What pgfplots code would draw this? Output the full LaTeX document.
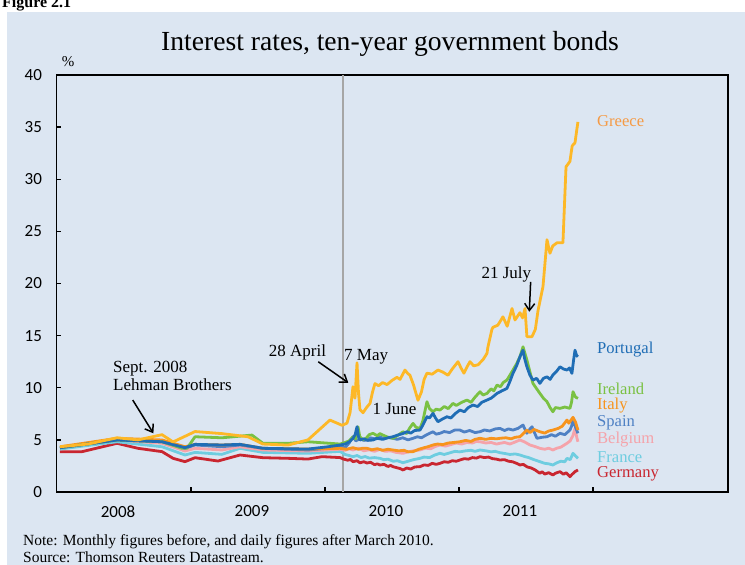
\documentclass[border=0pt]{standalone}
\usepackage{fontspec}
\setmainfont{Liberation Serif}
\newfontfamily\carlito{Carlito}
\usepackage{pgfplots}
\pgfplotsset{compat=1.18}
\usetikzlibrary{arrows.meta}
\definecolor{bgblue}{HTML}{DCE6F2}
\definecolor{cGreece}{HTML}{FDB827}
\definecolor{lGreece}{HTML}{F59A45}
\definecolor{cPortugal}{HTML}{1F6DB5}
\definecolor{cIreland}{HTML}{7AC143}
\definecolor{cItaly}{HTML}{F7941D}
\definecolor{cSpain}{HTML}{4F81C4}
\definecolor{cBelgium}{HTML}{F5A3AA}
\definecolor{cFrance}{HTML}{6ECDE0}
\definecolor{cGermany}{HTML}{C92630}
\definecolor{vgray}{HTML}{A6A6A6}
\begin{document}
\begin{tikzpicture}
\useasboundingbox (0,0) rectangle (745bp,565bp);
\fill[bgblue] (7bp,0) rectangle (745bp,553bp);
\begin{scope}
\clip (0,553bp) rectangle (745bp,565bp);
\node[anchor=base west, inner sep=0, font=\bfseries\fontsize{16bp}{18bp}\selectfont] at (2bp,557bp) {Figure 2.1};
\end{scope}
\node[font=\fontsize{27.6bp}{30bp}\selectfont, inner sep=0] at (390bp,521bp) {Interest rates, ten-year government bonds};
\node[font=\fontsize{15bp}{17bp}\selectfont, inner sep=0] at (68bp,503bp) {\%};
\begin{axis}[
  at={(56.5bp,73bp)}, anchor=south west, scale only axis,
  width=671.5bp, height=417bp,
  xmin=2007.996, xmax=2013.008, ymin=0, ymax=40,
  axis line style={line width=1.8bp, black},
  tick style={line width=1.3bp, black}, major tick length=5bp,
  tick align=inside, tick pos=left,
  xtick={2009,2010,2011,2012}, xticklabels={},
  extra x ticks={2008.455,2009.455,2010.455,2011.455},
  extra x tick labels={2008,2009,2010,2011},
  extra x tick style={tick style={draw=none}},
  ytick={0,5,...,40},
  ticklabel style={font=\carlito\fontsize{17bp}{17bp}\selectfont, black},
  xticklabel style={yshift=-10bp},
  yticklabel style={xshift=-11bp},
  /pgf/number format/assume math mode=true,
  clip=false,
  every axis plot/.append style={line width=2.8bp, line join=round, mark=none},
]
\addplot[vgray, line width=2bp] coordinates {(2010.134,0) (2010.134,40)};
% Germany
\addplot[cGermany] coordinates {
(2008.022,3.87) (2008.187,3.87) (2008.448,4.67) (2008.604,4.19) (2008.784,3.87)
(2008.866,3.23) (2008.955,2.91) (2009.030,3.29) (2009.201,2.97) (2009.366,3.55)
(2009.537,3.29) (2009.724,3.23) (2009.873,3.16) (2009.978,3.39) (2010.112,3.30)
(2010.14,3.15) (2010.17,3.05) (2010.19,3.12) (2010.209,2.91) (2010.24,3.00) (2010.26,2.80)
(2010.29,2.90) (2010.313,2.78) (2010.34,2.85) (2010.37,2.62) (2010.39,2.70) (2010.410,2.59)
(2010.44,2.65) (2010.47,2.45) (2010.49,2.55) (2010.507,2.43) (2010.53,2.35) (2010.56,2.25)
(2010.582,2.11) (2010.61,2.30) (2010.64,2.20) (2010.67,2.40) (2010.709,2.43) (2010.74,2.60)
(2010.77,2.55) (2010.80,2.75) (2010.83,2.65) (2010.858,2.75) (2010.89,2.90) (2010.92,2.85)
(2010.95,3.00) (2010.98,2.95) (2011.007,3.07) (2011.04,3.20) (2011.07,3.15) (2011.10,3.30)
(2011.13,3.25) (2011.157,3.39) (2011.19,3.30) (2011.22,3.35) (2011.25,3.20) (2011.28,3.15)
(2011.306,3.07) (2011.34,3.10) (2011.37,2.95) (2011.40,2.90) (2011.43,2.75) (2011.455,2.59)
(2011.48,2.65) (2011.51,2.40) (2011.54,2.30) (2011.57,2.10) (2011.604,1.79) (2011.62,1.95)
(2011.64,1.72) (2011.67,1.85) (2011.701,1.63) (2011.72,1.80) (2011.754,1.95) (2011.78,1.70)
(2011.80,1.85) (2011.828,1.47) (2011.845,1.70) (2011.866,1.95) (2011.888,2.11)};
% France
\addplot[cFrance] coordinates {
(2008.022,4.12) (2008.448,4.82) (2008.784,4.34) (2008.955,3.55) (2009.030,3.80)
(2009.231,3.61) (2009.366,4.19) (2009.537,3.80) (2009.873,3.71) (2010.112,3.90)
(2010.15,3.60) (2010.18,3.50) (2010.209,3.39) (2010.24,3.50) (2010.27,3.30) (2010.30,3.40)
(2010.33,3.25) (2010.37,3.30) (2010.410,3.23) (2010.44,3.10) (2010.47,3.15) (2010.51,2.95)
(2010.54,3.00) (2010.582,2.81) (2010.62,2.95) (2010.66,3.10) (2010.709,3.23) (2010.74,3.35)
(2010.78,3.30) (2010.82,3.55) (2010.858,3.71) (2010.89,3.60) (2010.93,3.75) (2010.97,3.90)
(2011.007,3.85) (2011.05,3.95) (2011.09,4.00) (2011.12,3.90) (2011.157,4.03) (2011.20,3.95)
(2011.24,3.85) (2011.27,3.90) (2011.306,3.77) (2011.34,3.70) (2011.38,3.60) (2011.42,3.65)
(2011.455,3.55) (2011.49,3.40) (2011.52,3.30) (2011.56,3.10) (2011.604,2.91) (2011.64,2.75)
(2011.67,2.70) (2011.701,2.59) (2011.73,2.80) (2011.76,2.95) (2011.79,2.90) (2011.806,3.23)
(2011.83,3.10) (2011.851,3.71) (2011.87,3.45) (2011.888,3.23)};
% Belgium
\addplot[cBelgium] coordinates {
(2008.022,4.25) (2008.448,4.99) (2008.784,4.67) (2008.955,3.93) (2009.030,4.19)
(2009.231,4.03) (2009.366,4.34) (2009.537,4.03) (2009.873,3.93) (2010.112,4.10)
(2010.15,4.00) (2010.18,4.15) (2010.209,4.03) (2010.25,4.20) (2010.29,3.95) (2010.33,4.05)
(2010.37,3.90) (2010.410,4.09) (2010.45,3.90) (2010.49,3.95) (2010.53,3.80) (2010.582,3.71)
(2010.62,3.85) (2010.66,3.95) (2010.709,4.03) (2010.75,4.20) (2010.79,4.15) (2010.82,4.35)
(2010.858,4.51) (2010.90,4.40) (2010.94,4.55) (2010.98,4.70) (2011.02,4.60) (2011.06,4.75)
(2011.10,4.70) (2011.13,4.85) (2011.157,4.82) (2011.20,4.70) (2011.24,4.75) (2011.28,4.60)
(2011.306,4.67) (2011.34,4.75) (2011.38,4.60) (2011.42,4.80) (2011.455,4.99) (2011.49,4.80)
(2011.530,4.51) (2011.57,4.35) (2011.604,4.19) (2011.64,4.10) (2011.67,4.20) (2011.701,4.03)
(2011.73,4.20) (2011.76,4.30) (2011.806,4.67) (2011.83,4.90) (2011.85,5.40) (2011.866,6.10)
(2011.88,5.20) (2011.888,4.82)};
% Spain
\addplot[cSpain] coordinates {
(2008.022,4.25) (2008.448,4.99) (2008.784,4.82) (2008.955,4.19) (2009.030,4.51)
(2009.231,4.34) (2009.366,4.51) (2009.537,4.19) (2009.873,4.03) (2010.112,4.30)
(2010.15,4.25) (2010.18,4.70) (2010.209,5.30) (2010.23,4.90) (2010.26,5.10) (2010.29,4.95)
(2010.313,4.99) (2010.34,5.20) (2010.37,5.10) (2010.410,5.30) (2010.44,5.10) (2010.47,5.25)
(2010.507,5.15) (2010.54,5.05) (2010.58,5.20) (2010.62,5.00) (2010.657,5.15) (2010.69,5.30)
(2010.72,5.20) (2010.76,5.50) (2010.806,5.78) (2010.83,5.55) (2010.858,5.63) (2010.89,5.80)
(2010.93,5.70) (2010.97,5.95) (2011.007,5.94) (2011.04,5.75) (2011.08,5.90) (2011.12,5.70)
(2011.157,5.78) (2011.19,5.95) (2011.23,5.85) (2011.27,6.05) (2011.306,6.10) (2011.34,5.90)
(2011.37,6.05) (2011.403,5.94) (2011.44,6.10) (2011.478,6.42) (2011.507,5.63) (2011.52,5.90)
(2011.545,6.26) (2011.56,5.80) (2011.582,5.15) (2011.62,5.25) (2011.657,5.30) (2011.69,5.50)
(2011.72,5.35) (2011.754,5.63) (2011.79,5.50) (2011.828,5.94) (2011.84,6.30) (2011.851,6.90)
(2011.87,6.20) (2011.888,5.63)};
% Italy
\addplot[cItaly] coordinates {
(2008.022,4.34) (2008.448,5.15) (2008.784,4.99) (2008.955,4.34) (2009.030,4.57)
(2009.231,4.51) (2009.366,4.57) (2009.537,4.19) (2009.873,4.12) (2010.112,4.19)
(2010.16,4.10) (2010.209,4.25) (2010.25,4.10) (2010.28,4.20) (2010.313,4.19) (2010.35,4.05)
(2010.39,4.15) (2010.43,4.00) (2010.47,4.10) (2010.507,4.03) (2010.55,3.95) (2010.59,4.00)
(2010.62,3.85) (2010.657,3.87) (2010.70,4.10) (2010.74,4.25) (2010.77,4.35) (2010.806,4.51)
(2010.84,4.60) (2010.88,4.55) (2010.92,4.70) (2010.96,4.75) (2011.007,4.82) (2011.05,4.95)
(2011.09,4.85) (2011.12,5.05) (2011.157,5.15) (2011.20,5.05) (2011.24,5.15) (2011.28,5.10)
(2011.306,5.15) (2011.35,5.20) (2011.39,5.10) (2011.42,5.25) (2011.455,5.30) (2011.48,5.60)
(2011.507,5.94) (2011.53,5.70) (2011.56,6.00) (2011.604,5.78) (2011.64,5.65) (2011.67,5.85)
(2011.701,5.94) (2011.74,6.10) (2011.77,6.30) (2011.806,6.90) (2011.82,6.60) (2011.851,7.16)
(2011.87,6.70) (2011.888,5.94)};
% Ireland
\addplot[cIreland] coordinates {
(2008.022,4.25) (2008.448,4.99) (2008.784,4.82) (2008.933,4.19) (2008.970,4.19)
(2009.030,5.30) (2009.231,5.20) (2009.455,5.46) (2009.537,4.67) (2009.724,4.67)
(2009.873,4.82) (2010.112,4.60) (2010.15,4.75) (2010.18,4.90) (2010.209,5.30) (2010.23,5.10)
(2010.246,6.26) (2010.26,5.30) (2010.284,4.99) (2010.31,5.20) (2010.33,5.50) (2010.358,5.63)
(2010.39,5.40) (2010.41,5.60) (2010.433,5.46) (2010.47,5.25) (2010.507,5.15) (2010.54,5.40)
(2010.582,5.78) (2010.61,5.60) (2010.63,6.10) (2010.657,6.58) (2010.68,6.20) (2010.709,6.10)
(2010.73,6.80) (2010.761,8.66) (2010.78,8.00) (2010.806,7.70) (2010.83,7.95) (2010.858,7.86)
(2010.89,8.20) (2010.92,8.00) (2010.955,8.50) (2010.98,8.30) (2011.02,8.60) (2011.060,8.82)
(2011.09,8.60) (2011.12,9.10) (2011.157,9.62) (2011.18,9.30) (2011.209,9.46) (2011.24,9.90)
(2011.26,9.70) (2011.284,10.26) (2011.31,10.10) (2011.33,10.50) (2011.358,10.74) (2011.38,11.20)
(2011.403,11.70) (2011.43,12.30) (2011.455,12.97) (2011.478,13.93) (2011.49,13.40) (2011.507,12.66)
(2011.53,11.50) (2011.552,10.42) (2011.58,9.90) (2011.604,9.46) (2011.63,9.00) (2011.657,8.66)
(2011.68,8.10) (2011.701,7.70) (2011.72,8.10) (2011.754,8.02) (2011.79,8.15) (2011.828,8.02)
(2011.84,8.60) (2011.851,9.62) (2011.87,9.10) (2011.888,8.98)};
% Portugal
\addplot[cPortugal] coordinates {
(2008.022,4.25) (2008.448,4.99) (2008.784,4.82) (2008.955,4.25) (2009.030,4.57)
(2009.231,4.51) (2009.366,4.57) (2009.537,4.19) (2009.873,4.12) (2010.022,4.34)
(2010.112,4.50) (2010.15,4.60) (2010.18,4.80) (2010.209,5.15) (2010.225,5.50) (2010.239,6.26)
(2010.25,5.30) (2010.261,4.99) (2010.29,5.10) (2010.32,4.95) (2010.358,4.99) (2010.39,5.15)
(2010.43,5.05) (2010.47,5.20) (2010.507,5.30) (2010.54,5.45) (2010.58,5.60) (2010.612,5.78)
(2010.64,5.65) (2010.67,5.90) (2010.709,5.94) (2010.73,6.40) (2010.761,7.22) (2010.78,7.10)
(2010.806,7.54) (2010.825,7.10) (2010.843,6.74) (2010.87,6.95) (2010.910,7.22) (2010.94,7.10)
(2010.97,7.50) (2011.007,7.86) (2011.04,7.70) (2011.07,8.10) (2011.104,8.34) (2011.14,8.20)
(2011.17,8.60) (2011.209,8.82) (2011.24,9.00) (2011.26,9.20) (2011.284,9.46) (2011.32,9.70)
(2011.358,9.94) (2011.38,10.60) (2011.403,11.38) (2011.43,12.10) (2011.455,12.97) (2011.478,13.60)
(2011.49,12.80) (2011.507,12.01) (2011.53,11.20) (2011.552,10.74) (2011.58,10.90) (2011.604,10.42)
(2011.63,10.90) (2011.657,11.05) (2011.68,10.80) (2011.701,11.22) (2011.73,11.60) (2011.754,12.01)
(2011.78,11.80) (2011.806,11.70) (2011.825,11.90) (2011.843,11.38) (2011.855,12.60) (2011.866,13.60)
(2011.878,13.10) (2011.888,12.97)};
% Greece
\addplot[cGreece] coordinates {
(2008.022,4.34) (2008.231,4.60) (2008.448,5.20) (2008.604,5.00) (2008.784,5.50)
(2008.866,4.80) (2009.030,5.80) (2009.231,5.60) (2009.425,5.30) (2009.537,4.60)
(2009.724,4.50) (2009.873,5.00) (2010.037,6.90) (2010.127,6.40) (2010.164,6.60)
(2010.187,7.60) (2010.209,10.10) (2010.224,9.00) (2010.239,12.40) (2010.25,9.50)
(2010.261,7.90) (2010.284,7.60) (2010.31,8.10) (2010.336,8.50) (2010.355,9.60)
(2010.373,10.40) (2010.40,10.20) (2010.43,10.50) (2010.463,10.30) (2010.50,10.70)
(2010.537,11.00) (2010.56,10.80) (2010.597,11.70) (2010.615,11.40) (2010.634,11.20)
(2010.66,10.30) (2010.694,8.80) (2010.72,9.60) (2010.74,10.80) (2010.761,11.40)
(2010.80,11.30) (2010.843,11.70) (2010.88,11.50) (2010.918,11.20) (2010.95,11.80)
(2010.993,12.50) (2011.015,11.90) (2011.037,11.40) (2011.06,12.00) (2011.082,12.50)
(2011.11,12.10) (2011.142,12.20) (2011.18,12.70) (2011.209,13.30) (2011.216,13.90)
(2011.246,15.60) (2011.254,15.80) (2011.29,16.00) (2011.328,16.80) (2011.360,15.90)
(2011.396,17.60) (2011.418,16.50) (2011.455,17.20) (2011.475,16.70) (2011.493,17.60)
(2011.507,14.90) (2011.545,14.90) (2011.570,15.60) (2011.590,17.40) (2011.627,19.70)
(2011.657,24.20) (2011.679,22.90) (2011.70,23.60) (2011.731,23.90) (2011.776,23.90)
(2011.799,31.20) (2011.828,31.70) (2011.845,33.20) (2011.866,33.50) (2011.88,34.80) (2011.888,35.50)};
% series labels
\begin{scope}[every node/.style={anchor=west, inner sep=0, font=\fontsize{16.6bp}{18bp}\selectfont}]
\node[text=lGreece] at (axis cs:2012.030,35.57) {Greece};
\node[text=cPortugal] at (axis cs:2012.030,13.71) {Portugal};
\node[text=cIreland] at (axis cs:2012.030,9.88) {Ireland};
\node[text=cItaly] at (axis cs:2012.030,8.25) {Italy};
\node[text=cSpain] at (axis cs:2012.030,6.62) {Spain};
\node[text=cBelgium] at (axis cs:2012.030,4.99) {Belgium};
\node[text=cFrance] at (axis cs:2012.030,3.36) {France};
\node[text=cGermany] at (axis cs:2012.030,1.73) {Germany};
\end{scope}
% annotations
\begin{scope}[every node/.style={inner sep=0, font=\fontsize{17bp}{18.5bp}\selectfont}]
\node[anchor=west, align=left] at (axis cs:2008.418,11.12) {Sept. 2008\\Lehman Brothers};
\node at (axis cs:2009.795,13.42) {28 April};
\node[anchor=west] at (axis cs:2010.142,12.94) {7 May};
\node at (axis cs:2010.519,7.96) {1 June};
\node at (axis cs:2011.354,20.9) {21 July};
\end{scope}
\begin{scope}[line width=1.5bp, -{Straight Barb[length=7bp,width=10bp]}]
\draw (axis cs:2008.565,8.82) -- (axis cs:2008.719,5.63);
\draw (axis cs:2009.950,12.49) -- (axis cs:2010.174,10.48);
\draw (axis cs:2011.535,20.16) -- (axis cs:2011.525,17.29);
\end{scope}
\end{axis}
\node[anchor=base west, inner sep=0, font=\fontsize{15.5bp}{17bp}\selectfont] at (23bp,20bp) {Note: Monthly figures before, and daily figures after March 2010.};
\node[anchor=base west, inner sep=0, font=\fontsize{15.5bp}{17bp}\selectfont] at (23bp,3bp) {Source: Thomson Reuters Datastream.};
\end{tikzpicture}
\end{document}
